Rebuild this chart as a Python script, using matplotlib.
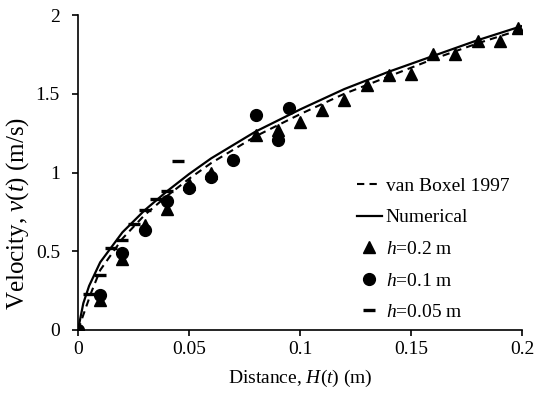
import numpy as np
import matplotlib
matplotlib.use("Agg")
from matplotlib import pyplot as plt

plt.rcParams["font.family"] = ["Liberation Serif", "DejaVu Serif"]
plt.rcParams["mathtext.fontset"] = "custom"
plt.rcParams["mathtext.rm"] = "Liberation Serif"
plt.rcParams["mathtext.it"] = "Liberation Serif:italic"

# curves
num_x = [0, 0.0024, 0.005, 0.01, 0.02, 0.03, 0.04, 0.05, 0.06, 0.08, 0.1, 0.12, 0.14, 0.16, 0.18, 0.2]
num_v = [0, 0.17, 0.28, 0.43, 0.62, 0.76, 0.88, 0.99, 1.09, 1.26, 1.40, 1.53, 1.64, 1.74, 1.84, 1.93]

box_x = [0, 0.003, 0.006, 0.01, 0.02, 0.03, 0.04, 0.05, 0.06, 0.08, 0.1, 0.12, 0.14, 0.16, 0.18, 0.2]
box_v = [0, 0.12, 0.24, 0.38, 0.58, 0.73, 0.85, 0.96, 1.06, 1.23, 1.37, 1.50, 1.61, 1.72, 1.82, 1.91]

# measurements
h20_x = [0, 0.01, 0.02, 0.03, 0.04, 0.05, 0.06, 0.08, 0.09, 0.1, 0.11, 0.12, 0.13,
         0.14, 0.15, 0.16, 0.17, 0.18, 0.19, 0.198]
h20_v = [0, 0.19, 0.45, 0.665, 0.77, 0.93, 1.0, 1.24, 1.27, 1.32, 1.40, 1.46, 1.555,
         1.62, 1.625, 1.755, 1.75, 1.835, 1.835, 1.92]

h10_x = [0, 0.01, 0.02, 0.03, 0.04, 0.05, 0.06, 0.07, 0.08, 0.09, 0.095]
h10_v = [0, 0.22, 0.49, 0.635, 0.82, 0.90, 0.97, 1.08, 1.365, 1.205, 1.41]

h05_x = [0, 0.005, 0.01, 0.015, 0.02, 0.025, 0.03, 0.035, 0.04, 0.045]
h05_v = [0, 0.23, 0.35, 0.52, 0.57, 0.67, 0.76, 0.83, 0.88, 1.07]

fig = plt.figure(figsize=(5.37, 3.94), dpi=100)
ax = fig.add_axes([78 / 537, 1 - 330 / 394, 444 / 537, 315 / 394])

ax.plot(box_x, box_v, color="black", lw=1.5, ls=(0, (3.5, 2.5)), label="van Boxel 1997", zorder=3)
ax.plot(num_x, num_v, color="black", lw=1.6, label="Numerical", zorder=3)
ax.plot(h20_x, h20_v, ls="none", marker="^", ms=9, color="black", label="$h$=0.2 m", zorder=4)
ax.plot(h10_x, h10_v, ls="none", marker="o", ms=8.5, color="black", label="$h$=0.1 m", zorder=5)
ax.plot(h05_x, h05_v, ls="none", marker="_", ms=9, mew=2.4, color="black", label="$h$=0.05 m", zorder=5)

ax.set_xlim(0, 0.2)
ax.set_ylim(0, 2)
ax.set_xticks([0, 0.05, 0.1, 0.15, 0.2])
ax.set_xticklabels(["0", "0.05", "0.1", "0.15", "0.2"])
ax.set_yticks([0, 0.5, 1, 1.5, 2])
ax.set_yticklabels(["0", "0.5", "1", "1.5", "2"])
ax.tick_params(direction="out", length=4, width=1.2, labelsize=14)
ax.tick_params(axis="x", pad=4)
ax.tick_params(axis="y", pad=9)
for s in ("top", "right"):
    ax.spines[s].set_visible(False)
for s in ("left", "bottom"):
    ax.spines[s].set_linewidth(1.2)

ax.set_xlabel("Distance, $H$($t$) (m)", fontsize=14, labelpad=7)
ax.set_ylabel("Velocity, $v$($t$) (m/s)", fontsize=18)
ax.yaxis.set_label_coords(-0.105, 0.37)

leg = ax.legend(loc="upper left", bbox_to_anchor=(0.61, 0.51), frameon=False,
                fontsize=14, handlelength=1.3, handletextpad=0.2, labelspacing=0.72,
                borderaxespad=0)

fig.savefig("out.png", dpi=100)
